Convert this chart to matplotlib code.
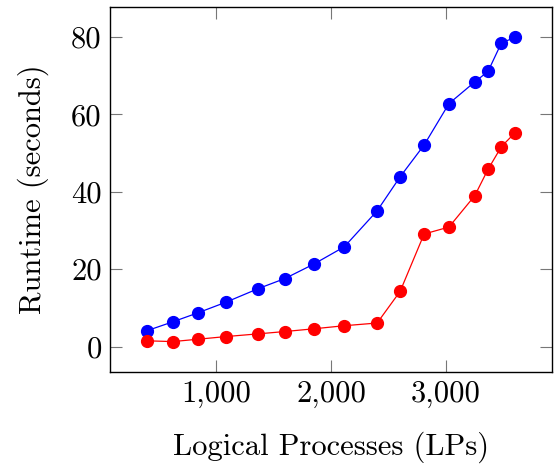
import matplotlib
matplotlib.use("Agg")
import matplotlib.pyplot as plt
from matplotlib.ticker import FuncFormatter

# grid sizes (LPs)
lps = [400, 625, 841, 1089, 1369, 1600, 1849, 2116, 2401, 2601, 2809, 3025, 3249, 3364, 3481, 3600]
runtime_blue = [4.1, 6.4, 8.7, 11.5, 15.0, 17.6, 21.3, 25.8, 35.1, 43.9, 52.1, 62.8, 68.4, 71.1, 78.5, 79.9]
runtime_red = [1.5, 1.3, 1.9, 2.6, 3.3, 3.9, 4.6, 5.4, 6.1, 14.3, 29.1, 30.9, 39.0, 45.8, 51.7, 55.3]

plt.rcParams['font.family'] = 'cmr10'
plt.rcParams['axes.unicode_minus'] = False
plt.rcParams['mathtext.fontset'] = 'cm'

fig = plt.figure(figsize=(5.55, 4.66), dpi=100)
ax = fig.add_axes([110 / 555, 1 - 372 / 466, 442 / 555, 365 / 466])

ax.plot(lps, runtime_blue, color='#0000ff', lw=0.9, marker='o', ms=8.5)
ax.plot(lps, runtime_red, color='#ff0000', lw=0.9, marker='o', ms=8.5)

xr = lps[-1] - lps[0]
ax.set_xlim(lps[0] - 0.1 * xr, lps[-1] + 0.1 * xr)
ymin = min(runtime_red)
ymax = max(runtime_blue)
yr = ymax - ymin
ax.set_ylim(ymin - 0.1 * yr, ymax + 0.1 * yr)

ax.set_xticks([1000, 2000, 3000])
ax.set_yticks([0, 20, 40, 60, 80])
ax.xaxis.set_major_formatter(FuncFormatter(lambda v, p: f"{int(v):,}"))

ax.tick_params(direction='in', length=8.5, width=0.8, color='#777777',
               top=True, right=True, labelsize=22, pad=6)
for s in ax.spines.values():
    s.set_linewidth(1.0)

ax.set_xlabel('Logical Processes (LPs)', fontsize=22, labelpad=17)
ax.set_ylabel('Runtime (seconds)', fontsize=22, labelpad=16)

fig.savefig('out.png', dpi=100)
